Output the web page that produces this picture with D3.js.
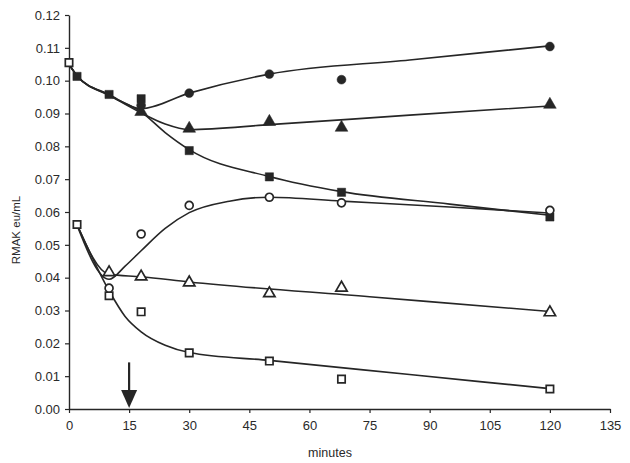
<!DOCTYPE html>
<html>
<head>
<meta charset="utf-8">
<script src="https://cdn.jsdelivr.net/npm/d3@7"></script>
<style>
  html, body { margin: 0; padding: 0; background: #fff; }
  svg { display: block; }
  text { font-family: "Liberation Sans", Arial, sans-serif; fill: #2a2a2a; }
</style>
</head>
<body>
<svg id="chart" width="630" height="463"></svg>
<script>
// Axis ticks
const xTicks = [0, 15, 30, 45, 60, 75, 90, 105, 120, 135];
const yTicks = [0, 0.01, 0.02, 0.03, 0.04, 0.05, 0.06, 0.07, 0.08, 0.09, 0.10, 0.11, 0.12];

// Measured points: [minutes, RMAK eu/mL]
const filledCircle   = [[18, 0.0925], [30, 0.0962], [50, 0.1020], [68, 0.1003], [120, 0.1104]];
const filledTriangle = [[18, 0.0905], [30, 0.0854], [50, 0.0875], [68, 0.0857], [120, 0.0927]];
const filledSquare   = [[2, 0.1013], [10, 0.0958], [18, 0.0945], [30, 0.0787], [50, 0.0707], [68, 0.0660], [120, 0.0585]];
const openCircle     = [[10, 0.0368], [18, 0.0533], [30, 0.0620], [50, 0.0645], [68, 0.0628], [120, 0.0605]];
const openTriangle   = [[10, 0.0416], [18, 0.0403], [30, 0.0385], [50, 0.0352], [68, 0.0369], [120, 0.0294]];
const openSquare     = [[0, 0.1055], [2, 0.0562], [10, 0.0345], [18, 0.0296], [30, 0.0171], [50, 0.0146], [68, 0.0091], [120, 0.0061]];

// Fitted curves drawn through each series
const fitFilledCircle   = [[0, 0.1050], [2, 0.1015], [10, 0.0958], [18, 0.0915], [30, 0.0962], [50, 0.1020], [85, 0.1063], [120, 0.1106]];
const fitFilledTriangle = [[0, 0.1050], [2, 0.1015], [10, 0.0956], [18, 0.0902], [24, 0.0868], [30, 0.0851], [50, 0.0866], [85, 0.0895], [120, 0.0923]];
const fitFilledSquare   = [[0, 0.1050], [2, 0.1015], [10, 0.0955], [18, 0.0905], [24, 0.0842], [30, 0.0790], [50, 0.0708], [68, 0.0662], [95, 0.0624], [120, 0.0590]];
const fitOpenCircle     = [[2, 0.0560], [10, 0.0395], [14, 0.0435], [18, 0.0482], [24, 0.0550], [30, 0.0598], [40, 0.0633], [50, 0.0645], [68, 0.0633], [95, 0.0615], [120, 0.0597]];
const fitOpenTriangle   = [[2, 0.0562], [10, 0.0410], [18, 0.0403], [30, 0.0387], [75, 0.0342], [120, 0.0297]];
const fitOpenSquare     = [[2, 0.0562], [10, 0.0360], [14, 0.0282], [18, 0.0235], [24, 0.0194], [30, 0.0172], [50, 0.0148], [85, 0.0105], [120, 0.0062]];

// Arrow marking the intervention time
const arrowTime = 15;
const arrowFrom = 0.0142;

const svg = d3.select("#chart");
const x = d3.scaleLinear().domain([0, 135]).range([69, 610]);
const y = d3.scaleLinear().domain([0, 0.12]).range([409, 15]);
const ink = "#262626";

// Axes
const xAxis = svg.append("g").attr("transform", `translate(0,${y(0)})`)
  .call(d3.axisBottom(x).tickValues(xTicks).tickSize(4).tickSizeOuter(0).tickPadding(8).tickFormat(d3.format("d")));
const yAxis = svg.append("g").attr("transform", `translate(${x(0)},0)`)
  .call(d3.axisLeft(y).tickValues(yTicks).tickSize(4).tickSizeOuter(0).tickPadding(5).tickFormat(d3.format(".2f")));
[xAxis, yAxis].forEach(g => {
  g.select(".domain").attr("stroke", ink).attr("stroke-width", 1.4);
  g.selectAll(".tick line").attr("stroke", ink).attr("stroke-width", 1.2);
  g.selectAll(".tick text").attr("font-size", 13).attr("fill", "#2a2a2a")
    .style("font-family", "'Liberation Sans', Arial, sans-serif");
});

// Axis titles
svg.append("text").attr("x", 330).attr("y", 457).attr("text-anchor", "middle")
  .attr("font-size", 12.5).text("minutes");
svg.append("text").attr("transform", `translate(20,230) rotate(-90)`).attr("text-anchor", "middle")
  .attr("font-size", 11.5).text("RMAK eu/mL");

// Fitted lines
const line = d3.line().x(d => x(d[0])).y(d => y(d[1])).curve(d3.curveMonotoneX);
[fitFilledCircle, fitFilledTriangle, fitFilledSquare, fitOpenCircle, fitOpenTriangle, fitOpenSquare]
  .forEach(fit => {
    svg.append("path").datum(fit).attr("d", line)
      .attr("fill", "none").attr("stroke", ink).attr("stroke-width", 1.6);
  });

// Markers
function markers(data, type, filled) {
  const size = { circle: 62, triangle: 70, square: 68 }[type];
  const sym = { circle: d3.symbolCircle, triangle: d3.symbolTriangle, square: d3.symbolSquare }[type];
  svg.append("g").selectAll("path").data(data).join("path")
    .attr("transform", d => `translate(${x(d[0])},${y(d[1])})`)
    .attr("d", d3.symbol(sym, filled ? size : size * 0.8))
    .attr("fill", filled ? ink : "#fff")
    .attr("stroke", ink).attr("stroke-width", filled ? 0.5 : 1.7);
}
markers(filledSquare, "square", true);
markers(filledTriangle, "triangle", true);
markers(filledCircle, "circle", true);
markers(openSquare, "square", false);
markers(openTriangle, "triangle", false);
markers(openCircle, "circle", false);

// Arrow
const ax = x(arrowTime);
svg.append("line").attr("x1", ax).attr("x2", ax).attr("y1", y(arrowFrom)).attr("y2", y(0) - 14)
  .attr("stroke", ink).attr("stroke-width", 2.2);
svg.append("path")
  .attr("d", `M${ax - 8},${y(0) - 19} L${ax + 8},${y(0) - 19} L${ax},${y(0) - 1} Z`)
  .attr("fill", ink);
</script>
</body>
</html>
